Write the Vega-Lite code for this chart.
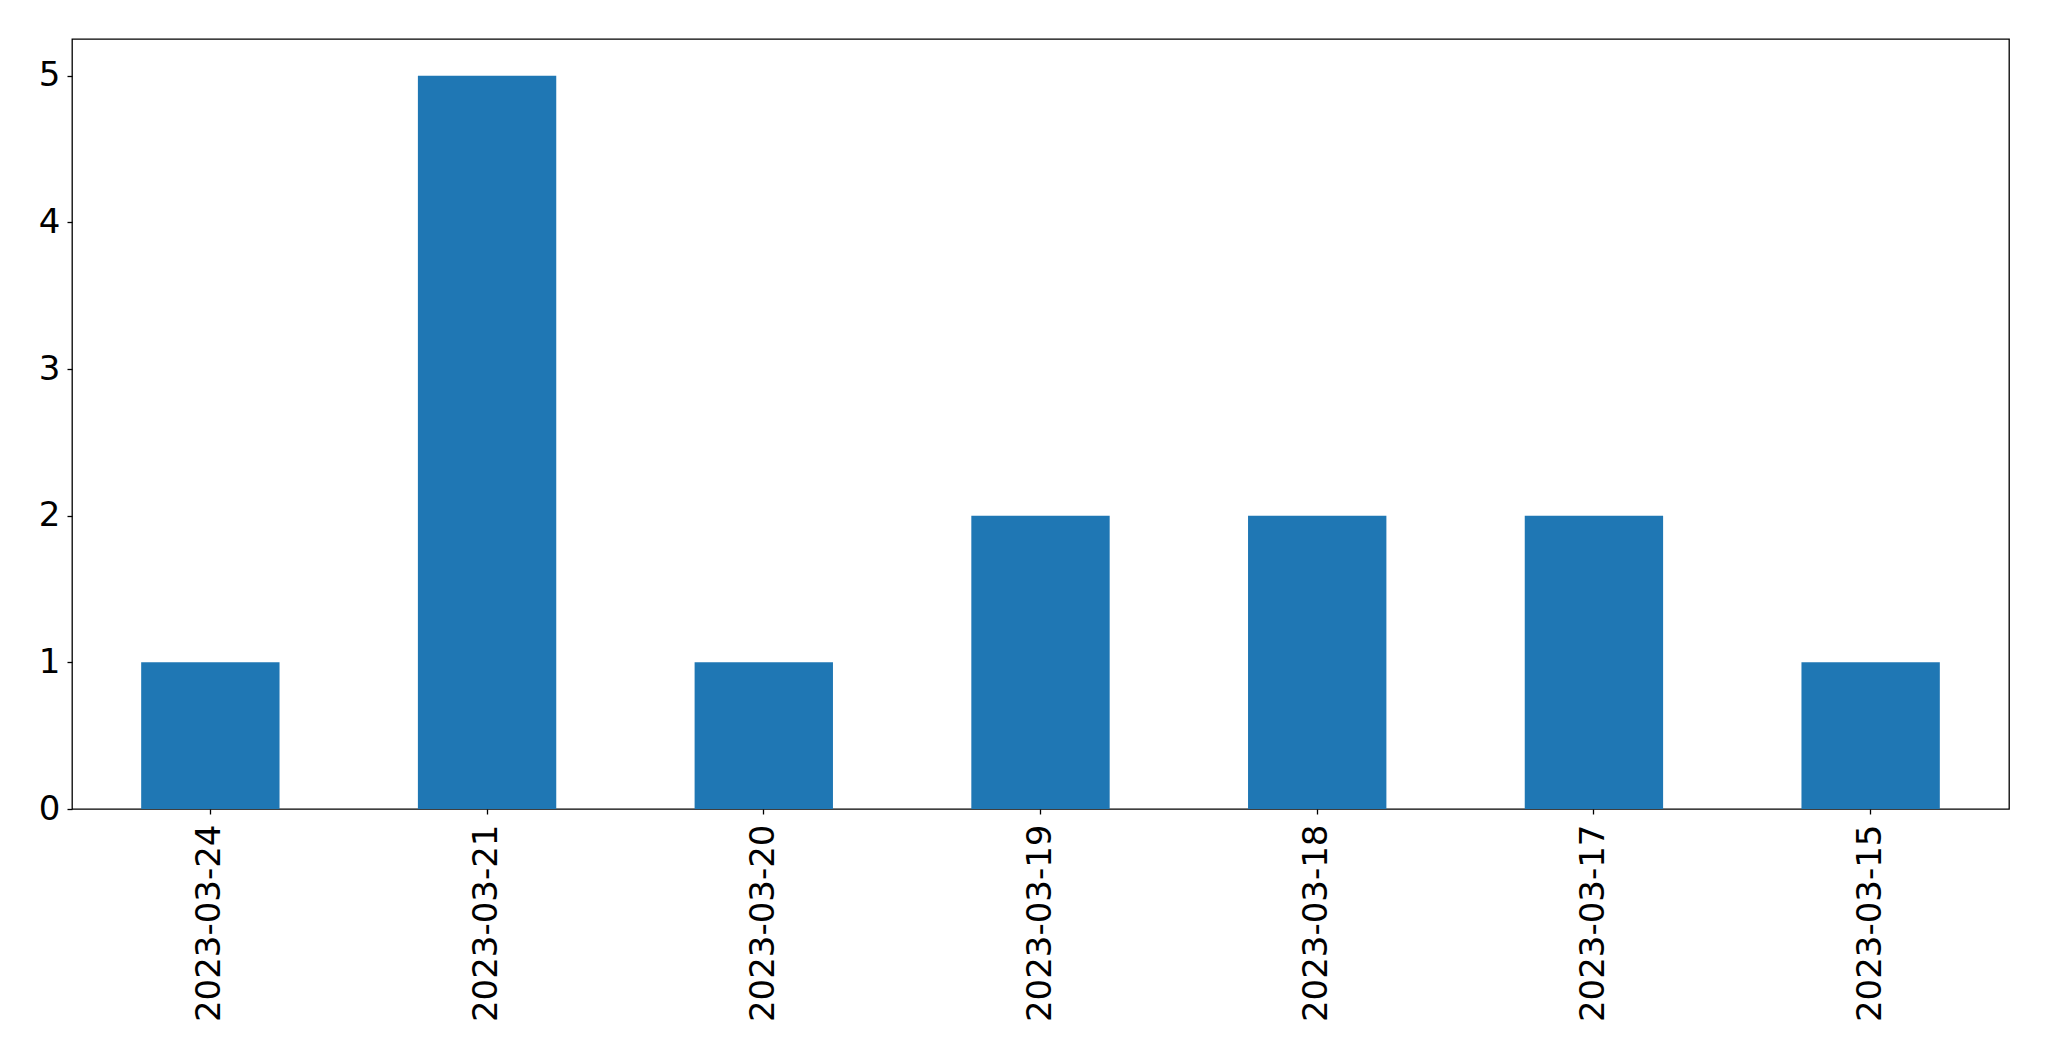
{
  "$schema": "https://vega.github.io/schema/vega-lite/v6.json",
  "autosize": {"type": "none"},
  "width": 1937,
  "height": 770,
  "padding": {"left": 72, "top": 39, "right": 40, "bottom": 252},
  "background": "white",
  "config": {
    "view": {"stroke": "#000000", "strokeWidth": 1.3},
    "font": "DejaVu Sans",
    "axis": {
      "labelFont": "DejaVu Sans",
      "labelFontSize": 34,
      "labelColor": "#000000",
      "labelLimit": 0,
      "tickColor": "#000000",
      "tickSize": 5,
      "tickWidth": 1.3,
      "domain": false,
      "grid": false,
      "title": null
    }
  },
  "data": {
    "values": [
      {"date": "2023-03-24", "count": 1},
      {"date": "2023-03-21", "count": 5},
      {"date": "2023-03-20", "count": 1},
      {"date": "2023-03-19", "count": 2},
      {"date": "2023-03-18", "count": 2},
      {"date": "2023-03-17", "count": 2},
      {"date": "2023-03-15", "count": 1}
    ]
  },
  "mark": {"type": "bar", "color": "#1f77b4"},
  "encoding": {
    "x": {
      "field": "date",
      "type": "nominal",
      "sort": null,
      "scale": {"paddingInner": 0.5, "paddingOuter": 0.25},
      "axis": {"labelAngle": -90, "labelAlign": "right", "labelBaseline": "middle", "labelPadding": 10}
    },
    "y": {
      "field": "count",
      "type": "quantitative",
      "scale": {"domain": [0, 5.25], "nice": false},
      "axis": {"values": [0, 1, 2, 3, 4, 5], "labelPadding": 7}
    }
  }
}
